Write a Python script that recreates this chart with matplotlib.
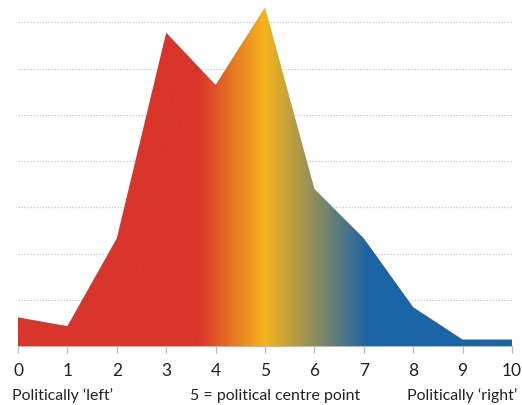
import numpy as np
import matplotlib
matplotlib.use("Agg")
import matplotlib.pyplot as plt
from matplotlib.colors import LinearSegmentedColormap

# Data
scale = list(range(11))
share = [3.1, 2.15, 11.65, 33.9, 28.25, 36.65, 17.0, 11.65, 4.2, 0.7, 0.7]
grid_levels = [5, 10, 15, 20, 25, 30, 35]
label_left = "Politically \u2018left\u2019"
label_mid = "5 = political centre point"
label_right = "Politically \u2018right\u2019"

# gradient stops (x position, colour)
grad_pos = [0, 3.65, 5.0, 7.1, 10]
grad_col = ["#d9352a", "#d9352a", "#f5b51b", "#1b64a6", "#1b64a6"]

plt.rcParams['font.family'] = ['Lato', 'DejaVu Sans']

W, H = 522, 405
fig = plt.figure(figsize=(W / 100, H / 100), dpi=100)
ax = fig.add_axes([18 / W, 1 - 346 / H, (512 - 18) / W, (346 - 4) / H])
ax.set_xlim(0, 10)
ax.set_ylim(0, 37)

for g in grid_levels:
    ax.plot([0, 10], [g, g], color="#cfcfcf", lw=0.9, ls=(0, (1.2, 1.2)), zorder=1)

poly = ax.fill_between(scale, share, 0, color="none", lw=0, zorder=2)
cmap = LinearSegmentedColormap.from_list(
    "pol", [(p / 10, c) for p, c in zip(grad_pos, grad_col)])
xs = np.linspace(0, 10, 1000).reshape(1, -1)
im = ax.imshow(xs, cmap=cmap, vmin=0, vmax=10, extent=[0, 10, 0, max(share)],
               aspect="auto", origin="lower", zorder=2, interpolation="bilinear")
path = poly.get_paths()[0]
im.set_clip_path(path, transform=ax.transData)
ax.set_ylim(0, 37)
ax.set_xlim(0, 10)

for s in ["top", "left", "right"]:
    ax.spines[s].set_visible(False)
ax.spines["bottom"].set_color("#bbbbbb")
ax.spines["bottom"].set_zorder(0)
ax.set_yticks([])
ax.set_xticks(scale)
ax.tick_params(axis="x", length=5, width=0.9, color="#bbbbbb", pad=7,
               labelsize=12.5, labelcolor="#222222")

fig.text(12 / W, 1 - 400 / H, label_left, ha="left", va="baseline",
         fontsize=11.4, color="#222222")
fig.text(275.5 / W, 1 - 400 / H, label_mid, ha="center", va="baseline",
         fontsize=11.4, color="#222222")
fig.text(517 / W, 1 - 400 / H, label_right, ha="right", va="baseline",
         fontsize=11.4, color="#222222")

fig.savefig("out.png", dpi=100)
